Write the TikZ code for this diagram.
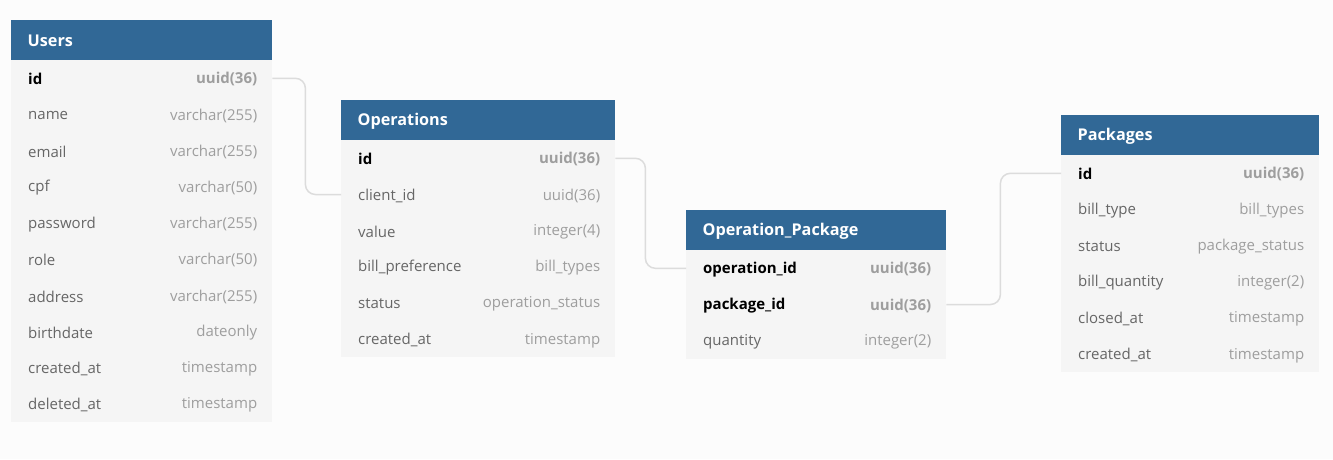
\documentclass[tikz,border=0pt]{standalone}
\usepackage{fontspec}
\setmainfont{Open Sans}
\definecolor{hdrblue}{HTML}{316896}
\definecolor{rowbg}{HTML}{F5F5F5}
\definecolor{pagebg}{HTML}{FCFCFC}
\definecolor{nmgray}{HTML}{666666}
\definecolor{tygray}{HTML}{9E9E9E}
\definecolor{conngray}{HTML}{DCDCDC}
\tikzset{
  hdr/.style={rectangle, fill=hdrblue, draw=none, minimum height=40pt, inner sep=0pt},
  hdrtxt/.style={anchor=west, inner sep=0pt, yshift=-1pt, text=white, font=\fontsize{16.2}{19}\selectfont\bfseries},
  rowbox/.style={rectangle, fill=rowbg, draw=none, minimum height=36.2pt, inner sep=0pt},
  plainname/.style={anchor=west, inner sep=0pt, yshift=-1pt, text=nmgray, font=\fontsize{15}{18}\selectfont},
  plaintype/.style={anchor=east, inner sep=0pt, yshift=-1pt, text=tygray, font=\fontsize{15}{18}\selectfont},
  keyname/.style={anchor=west, inner sep=0pt, yshift=-1pt, text=black, font=\fontsize{15}{18}\selectfont\bfseries},
  keytype/.style={anchor=east, inner sep=0pt, yshift=-1pt, text=tygray, font=\fontsize{15}{18}\selectfont\bfseries},
  conn/.style={draw=conngray, line width=1.5pt, rounded corners=10pt},
}
\newcommand\ertable[6]{%
  \node[hdr, minimum width=#4pt, anchor=north west] (#1) at (#2,#3) {};
  \node[hdrtxt] (#1-title) at ([xshift=16.5pt]#1.west) {#5};
  \foreach \nm/\fd/\ty/\st [count=\i from 0] in {#6} {
    \node[rowbox, minimum width=#4pt, anchor=north west] (#1-\nm) at (#2,#3+40+\i*36.2) {};
    \ifnum\st=1
      \node[keyname] (#1-\nm-n) at ([xshift=17pt]#1-\nm.west) {\fd};
      \node[keytype] (#1-\nm-t) at ([xshift=-15pt]#1-\nm.east) {\ty};
    \else
      \node[plainname] (#1-\nm-n) at ([xshift=17pt]#1-\nm.west) {\fd};
      \node[plaintype] (#1-\nm-t) at ([xshift=-15pt]#1-\nm.east) {\ty};
    \fi
  }%
}
\begin{document}
\begin{tikzpicture}[x=1pt, y=-1pt]
\fill[pagebg] (0,0) rectangle (1333,459);
\useasboundingbox (0,0) rectangle (1333,459);

\ertable{users}{11}{20}{261}{Users}{%
  id/id/uuid(36)/1,
  name/name/varchar(255)/0,
  email/email/varchar(255)/0,
  cpf/cpf/varchar(50)/0,
  password/password/varchar(255)/0,
  role/role/varchar(50)/0,
  address/address/varchar(255)/0,
  birth/birthdate/dateonly/0,
  created/created\_at/timestamp/0,
  deleted/deleted\_at/timestamp/0}

\ertable{ops}{341}{100}{274}{Operations}{%
  id/id/uuid(36)/1,
  client/client\_id/uuid(36)/0,
  value/value/integer(4)/0,
  billpref/bill\_preference/bill\_types/0,
  status/status/operation\_status/0,
  created/created\_at/timestamp/0}

\ertable{opkg}{686}{210}{260}{Operation\_Package}{%
  op/operation\_id/uuid(36)/1,
  pkg/package\_id/uuid(36)/1,
  qty/quantity/integer(2)/0}

\ertable{pkg}{1061}{115}{258}{Packages}{%
  id/id/uuid(36)/1,
  billtype/bill\_type/bill\_types/0,
  status/status/package\_status/0,
  billqty/bill\_quantity/integer(2)/0,
  closed/closed\_at/timestamp/0,
  created/created\_at/timestamp/0}

\draw[conn] (users-id.east) -- ++(33,0) |- (ops-client.west);
\draw[conn] (ops-id.east) -- ++(30,0) |- (opkg-op.west);
\draw[conn] (opkg-pkg.east) -- ++(54,0) |- (pkg-id.west);
\end{tikzpicture}
\end{document}
